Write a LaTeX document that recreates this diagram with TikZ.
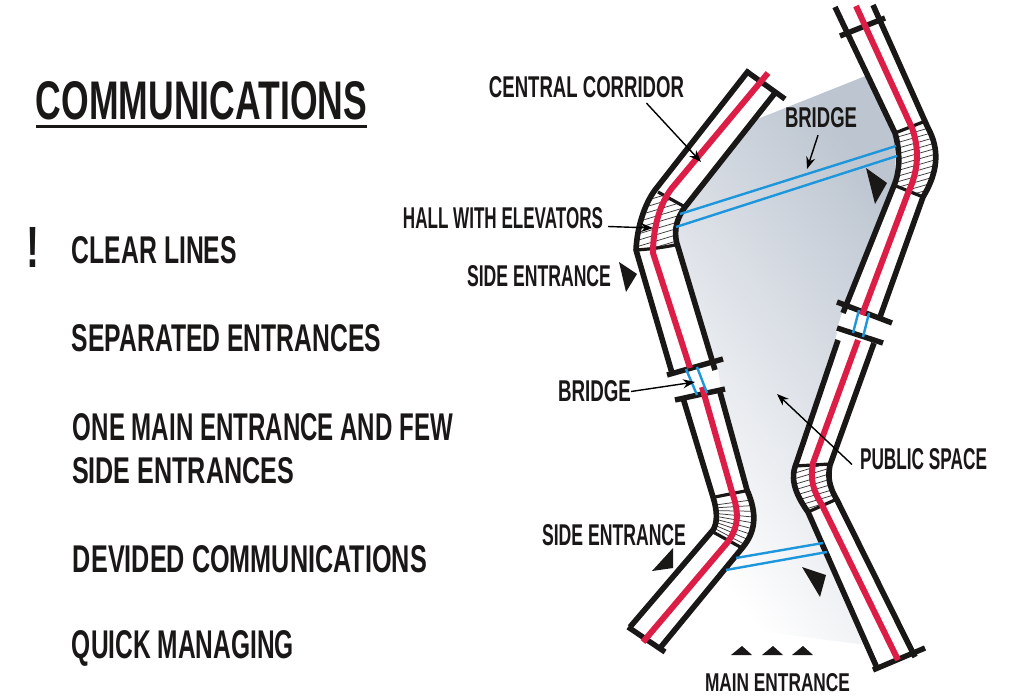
\documentclass[tikz,border=0pt]{standalone}
\usepackage{fontspec}
\usepackage{graphicx}
\setmainfont{Liberation Sans}
\usetikzlibrary{arrows.meta}
\definecolor{wallc}{HTML}{1A1717}
\definecolor{redc}{HTML}{DC1E46}
\definecolor{bluec}{HTML}{1E96DC}
\definecolor{bluegray}{HTML}{BCC5D0}
\definecolor{midgray}{HTML}{DEE2E8}
\tikzset{
  wall/.style={draw=wallc,line width=5.6pt,line join=round},
  barline/.style={draw=wallc,line width=5.4pt},
  hallbar/.style={draw=wallc,line width=3.2pt},
  redline/.style={draw=redc,line width=6pt,line join=round},
  blueline/.style={draw=bluec,line width=2.4pt},
  hatch/.style={draw=wallc!85,line width=0.75pt},
  tri/.style={fill=wallc,draw=none},
  leader/.style={draw=black,line width=1.4pt,-{Stealth[length=12pt,width=9pt]}},
  lbl/.style={inner sep=0pt,outer sep=0pt,anchor=center,font=\bfseries,text=wallc}
}
\newcommand{\lab}[6]{\node[lbl] (#1) at ({(#2+#3)/2},{(#4+#5)/2}) {\resizebox{\dimexpr#3pt-#2pt\relax}{\dimexpr#5pt-#4pt\relax}{#6}};}
\begin{document}
\begin{tikzpicture}[x=1pt,y=-1pt]
\useasboundingbox (0,0) rectangle (1024,698);
% public space
\shade[top color=bluegray,bottom color=white,middle color=midgray,shading angle=-53.5]
 (868,75) -- (745,124) -- (685,207) -- (675,230) -- (720,392) -- (755,517) -- (700,600) -- (727,627) -- (866,645) -- (808,512) -- (793,480) -- (843,313) -- (895,183) -- (895,130) -- cycle;
% corridor A white
\fill[white] (749,70) -- (655,190) .. controls (644,205) and (637,228) .. (636,250) -- (672,373)
  -- (715,370) -- (678,247) .. controls (674,236) and (674,222) .. (685,207) -- (775,93) -- cycle;
% bridge gap A-B
\fill[white] (672,373) -- (717,365) -- (722,395) -- (680,402) -- cycle;
% corridor B white
\fill[white] (683,398) -- (713,497) .. controls (717,510) and (718,522) .. (713,530) -- (630,627) -- (660,648)
  -- (743,547) .. controls (755,532) and (758,515) .. (747,490) -- (720,392) -- cycle;
% corridor C white
\fill[white] (835,7) -- (895,133) .. controls (900,150) and (900,170) .. (895,183) -- (843,313) -- (880,317)
  -- (923,197) .. controls (938,172) and (940,150) .. (928,128) -- (873,5) -- cycle;
% bridge gap C-D
\fill[white] (843,310) -- (885,322) -- (878,345) -- (836,332) -- cycle;
% corridor D white
\fill[white] (838,340) -- (795,467) .. controls (790,482) and (798,498) .. (808,512) -- (877,668) -- (915,657)
  -- (837,500) .. controls (828,485) and (828,475) .. (830,465) -- (874,343) -- cycle;
% hatches
\begin{scope}
 \clip (658,192) -- (685,207) .. controls (674,222) and (674,236) .. (678,247) -- (636,250) .. controls (637,228) and (644,205) .. (655,190) -- cycle;
 \foreach \k in {0,...,12} \draw[hatch] (620,{196+\k*6.2}) -- (700,{172+\k*6.2});
\end{scope}
\begin{scope}
 \clip (895,133) -- (923,122) -- (928,128) .. controls (940,150) and (938,172) .. (923,197) -- (896,186) .. controls (900,170) and (900,150) .. (895,133) -- cycle;
 \foreach \k in {0,...,15} \draw[hatch] (880,{142+\k*5.6}) -- (950,{122+\k*5.6});
\end{scope}
\begin{scope}
 \clip (715,497) -- (745,491) .. controls (758,515) and (755,532) .. (742,548) -- (713,532) .. controls (718,522) and (717,510) .. (713,497) -- cycle;
 \foreach \a in {-8,-3.5,...,28} \draw[hatch] (680,510) -- ++(\a:85);
\end{scope}
\begin{scope}
 \clip (795,466) -- (830,464) .. controls (828,475) and (828,485) .. (837,499) -- (808,512) .. controls (798,498) and (790,482) .. (795,466) -- cycle;
 \foreach \k in {0,...,12} \draw[hatch] (785,{476+\k*5.6}) -- (845,{458+\k*5.6});
\end{scope}
% walls A
\draw[wall] (749,70) -- (655,190) .. controls (644,205) and (637,228) .. (636,250) -- (672,373);
\draw[wall] (775,93) -- (685,207) .. controls (674,222) and (674,236) .. (678,247) -- (715,370);
% walls B
\draw[wall] (683,398) -- (713,497) .. controls (717,510) and (718,522) .. (713,530) -- (630,627);
\draw[wall] (720,392) -- (747,490) .. controls (758,515) and (755,532) .. (743,547) -- (660,648);
% walls C
\draw[wall] (835,7) -- (895,133) .. controls (900,150) and (900,170) .. (895,183) -- (843,313);
\draw[wall] (873,5) -- (928,128) .. controls (940,150) and (938,172) .. (923,197) -- (880,317);
% walls D
\draw[wall] (838,340) -- (795,467) .. controls (790,482) and (798,498) .. (808,512) -- (877,668);
\draw[wall] (874,343) -- (830,465) .. controls (828,475) and (828,485) .. (837,500) -- (915,657);
% bars
\draw[barline] (746,71) -- (785,99);
\draw[barline] (667,375) -- (723,359);
\draw[barline] (675,400) -- (725,389);
\draw[barline] (628,627) -- (665,652);
\draw[barline] (840,36) -- (885,18);
\draw[barline] (837,302) -- (892,323);
\draw[barline] (837,328) -- (883,343);
\draw[barline] (873,670) -- (925,648);
% hall bars
\draw[hallbar] (658,192) -- (685,207);
\draw[hallbar] (636,250) .. controls (650,249) and (660,248) .. (675,245);
\draw[hallbar] (895,133) -- (923,122);
\draw[hallbar] (896,186) -- (923,197);
\draw[hallbar] (715,497) -- (745,491);
\draw[hallbar] (713,532) -- (742,548);
\draw[hallbar] (795,466) -- (830,464);
\draw[hallbar] (808,512) -- (837,499);
% red lines
\draw[redline] (768,73) -- (672,188) .. controls (660,203) and (653,228) .. (653,253) -- (690,368);
\draw[redline] (702,387) -- (732,492) .. controls (740,515) and (738,528) .. (727,543) -- (643,642);
\draw[redline] (856,6) -- (912,128) .. controls (920,150) and (918,172) .. (908,193) -- (862,315);
\draw[redline] (858,340) -- (813,463) .. controls (810,480) and (813,490) .. (822,505) -- (898,660);
% bridges
\draw[blueline] (680,214) -- (896,146);
\draw[blueline] (676,227) -- (897,156);
\draw[blueline] (736,558) -- (823,543);
\draw[blueline] (726,570) -- (827,552);
\draw[blueline] (686,369) -- (697,395);
\draw[blueline] (697,367) -- (707,393);
\draw[blueline] (859,310) -- (853,333);
\draw[blueline] (869,313) -- (863,337);
% triangles
\fill[tri] (619,262) -- (637,274) -- (626,292) -- cycle;
\fill[tri] (866,168) -- (887,183) -- (875,204) -- cycle;
\fill[tri] (673,548) -- (652,571) -- (673,568) -- cycle;
\fill[tri] (802,567) -- (826,575) -- (820,597) -- cycle;
\fill[tri] (731,655) -- (742,646) -- (752,655) -- cycle;
\fill[tri] (762,655) -- (773,646) -- (783,655) -- cycle;
\fill[tri] (792,655) -- (803,646) -- (813,655) -- cycle;
% labels
\lab{cc}{489}{684}{77}{98}{CENTRAL CORRIDOR}
\lab{brt}{785}{857}{108}{128}{BRIDGE}
\lab{hall}{403}{603}{208}{229}{HALL WITH ELEVATORS}
\lab{sea}{467}{611}{266}{287}{SIDE ENTRANCE}
\lab{brl}{558}{631}{381}{402}{BRIDGE}
\lab{pub}{860}{987}{449}{470}{PUBLIC SPACE}
\lab{seb}{542}{686}{525}{546}{SIDE ENTRANCE}
\lab{mainl}{705}{850}{674}{692}{MAIN ENTRANCE}
\lab{title}{36}{367}{82}{120}{COMMUNICATIONS}
\lab{bang}{27}{40}{227}{267}{!}
\lab{l1}{72}{237}{237}{264}{CLEAR LINES}
\lab{l2}{72}{381}{325}{352}{SEPARATED ENTRANCES}
\lab{l3}{73}{453}{414}{441}{ONE MAIN ENTRANCE AND FEW}
\lab{l4}{72}{294}{458}{484}{SIDE ENTRANCES}
\lab{l5}{73}{427}{546}{573}{DEVIDED COMMUNICATIONS}
\lab{l6}{72}{294}{634}{662}{QUICK MANAGING}
\draw[draw=wallc,line width=2.6pt] (title.south west) ++(0,6.5) -- ++(331,0);
% leaders
\coordinate (ccTip) at (701,162);
\coordinate (brtTip) at (807,169);
\coordinate (hallTip) at (653,228);
\coordinate (brlTip) at (695,382);
\coordinate (pubTip) at (777,394);
\draw[leader] ([xshift=60pt,yshift=-5pt]cc.south) -- (ccTip);
\draw[leader] ([xshift=-3pt,yshift=-7pt]brt.south) -- (brtTip);
\draw[leader] ([xshift=5pt,yshift=-8pt]hall.east) -- (hallTip);
\draw[leader] (brl.east) -- (brlTip);
\draw[leader] ([xshift=-8pt,yshift=-5pt]pub.west) -- (pubTip);
\end{tikzpicture}
\end{document}
